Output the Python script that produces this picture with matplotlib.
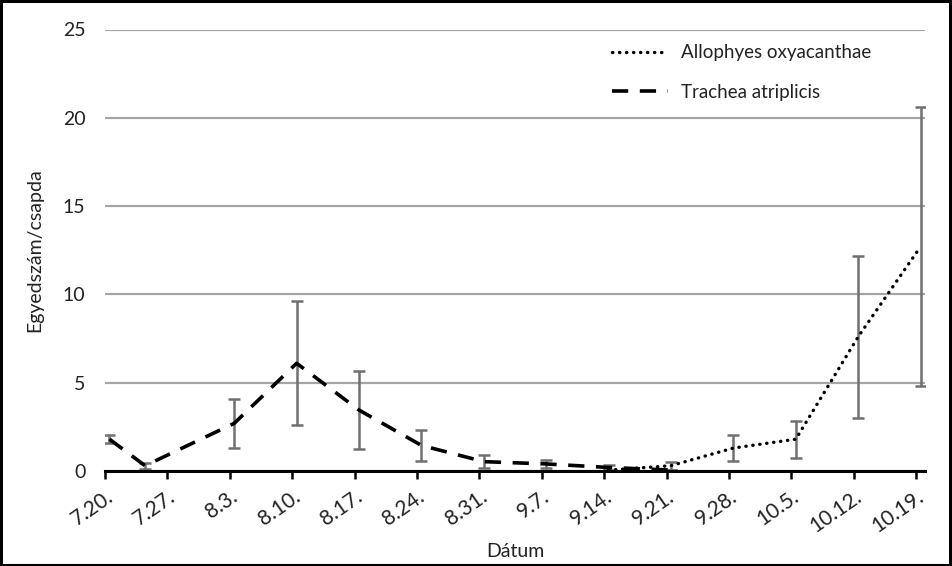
import matplotlib
matplotlib.use("Agg")
import matplotlib.pyplot as plt
import matplotlib.dates as mdates
import numpy as np
import datetime as dt
from matplotlib.patches import Rectangle

plt.rcParams['font.family'] = ['Lato', 'DejaVu Sans']

YEAR = 2012
# Trachea atriplicis (dashed)
trachea_dates = ["7.20", "7.24", "8.3", "8.10", "8.17", "8.24", "8.31", "9.7", "9.14", "9.21"]
trachea_mean = [1.8, 0.3, 2.7, 6.1, 3.45, 1.45, 0.53, 0.4, 0.2, 0.05]
trachea_err = [0.23, 0.18, 1.4, 3.5, 2.2, 0.87, 0.37, 0.23, 0.12, 0.0]

# Allophyes oxyacanthae (dotted)
allo_dates = ["9.14", "9.21", "9.28", "10.5", "10.12", "10.19"]
allo_mean = [0.05, 0.3, 1.3, 1.8, 7.6, 12.7]
allo_err = [0.0, 0.23, 0.75, 1.05, 4.6, 7.9]

tick_labels = ["7.20.", "7.27.", "8.3.", "8.10.", "8.17.", "8.24.", "8.31.",
               "9.7.", "9.14.", "9.21.", "9.28.", "10.5.", "10.12.", "10.19."]
y_ticks = [0, 5, 10, 15, 20, 25]


def to_num(s):
    m, d = s.split(".")
    return mdates.date2num(dt.datetime(YEAR, int(m), int(d))) + 0.5  # middle of day


def tick_num(s):
    m, d = s.strip(".").split(".")
    return mdates.date2num(dt.datetime(YEAR, int(m), int(d)))


fig = plt.figure(figsize=(9.52, 5.66), dpi=100)
ax = fig.add_axes([105 / 952, 1 - 471 / 566, 820 / 952, (471 - 29.5) / 566])

tx = [to_num(s) for s in trachea_dates]
axx = [to_num(s) for s in allo_dates]

err_kw = dict(fmt='none', ecolor='#707070', elinewidth=1.8, capsize=4.3, capthick=1.8, zorder=3)
ax.errorbar(tx, trachea_mean, yerr=trachea_err, **err_kw)
ax.errorbar(axx, allo_mean, yerr=allo_err, **err_kw)

ax.plot(axx, allo_mean, color='black', lw=2.4, linestyle=(0, (0.1, 2.0)),
        dash_capstyle='round', label='Allophyes oxyacanthae', zorder=4)
ax.plot(tx, trachea_mean, color='black', lw=2.6, linestyle=(0, (4.5, 3.2)),
        label='Trachea atriplicis', zorder=4)

x0 = tick_num("7.20.")
ax.set_xlim(x0, x0 + 92)
ax.set_ylim(0, 25)
ax.set_yticks(y_ticks)
ax.set_xticks([tick_num(s) for s in tick_labels])
ax.set_xticklabels(tick_labels, rotation=35, ha='right', rotation_mode='anchor', fontsize=15)
ax.tick_params(axis='x', direction='out', length=6, width=1.8, color='black', pad=5)
ax.tick_params(axis='y', length=0, labelsize=14, pad=14, colors='#222222')
ax.tick_params(axis='x', labelcolor='#222222')

ax.yaxis.grid(True, color='#a6a6a6', lw=1.6)
ax.set_axisbelow(True)
for s in ['left', 'right', 'top']:
    ax.spines[s].set_visible(False)
ax.spines['bottom'].set_color('black')
ax.spines['bottom'].set_linewidth(2.2)
ax.spines['bottom'].set_zorder(5)

ax.set_xlabel('Dátum', fontsize=14, labelpad=5, color='#222222')
ax.set_ylabel('Egyedszám/csapda', fontsize=14, labelpad=14, color='#222222')

leg = ax.legend(loc='upper left', bbox_to_anchor=(0.598, 1.005), frameon=False, fontsize=13.5,
                handlelength=3.0, handletextpad=0.65, labelspacing=1.2)
for t in leg.get_texts():
    t.set_color('#222222')

fig.patches.append(Rectangle((0.001, 0.001), 0.997, 0.997, transform=fig.transFigure,
                             fill=False, edgecolor='black', lw=2.2))

fig.savefig('out.png', dpi=100)
